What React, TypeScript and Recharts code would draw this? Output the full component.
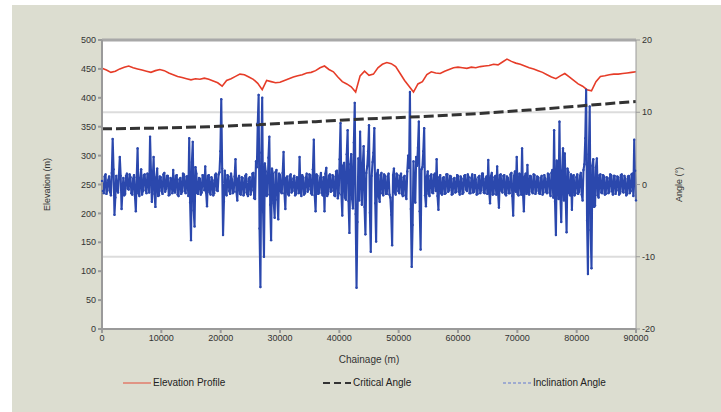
import { CartesianGrid, ComposedChart, Line, ReferenceLine, XAxis, YAxis } from "recharts";

const chainageTicks = [0, 10000, 20000, 30000, 40000, 50000, 60000, 70000, 80000, 90000];
const elevationTicks = [0, 50, 100, 150, 200, 250, 300, 350, 400, 450, 500];
const angleTicks = [-20, -10, 0, 10, 20];

// elevation profile (m), every 750 m
const ELEV_STEP = 750;
const elevation = [
  451, 448, 444, 446, 450, 453, 455, 452, 450, 448,
  446, 444, 447, 449, 447, 443, 440, 437, 435, 433,
  431, 433, 432, 434, 432, 429, 426, 420, 430, 433,
  437, 441, 440, 436, 432, 425, 414, 430, 428, 426,
  427, 430, 433, 436, 438, 440, 443, 444, 447, 452,
  455, 449, 445, 436, 428, 424, 419, 410, 438, 446,
  439, 441, 452, 458, 461, 459, 454, 442, 430, 420,
  410, 424, 428, 440, 445, 443, 442, 446, 449, 452,
  453, 452, 451, 453, 452, 454, 455, 456, 458, 457,
  462, 467, 463, 460, 458, 455, 452, 450, 447, 444,
  440, 436, 433, 438, 442, 436, 430, 424, 420, 414,
  412, 428, 437, 438, 440, 441, 441, 442, 443, 444,
  445,
];

// critical angle (deg), every 9000 m
const CRIT_STEP = 9000;
const criticalAngle = [7.7, 7.8, 8.0, 8.3, 8.7, 9.1, 9.4, 9.8, 10.3, 10.9, 11.5];

// inclination angle (deg), every 150 m
const INCL_STEP = 150;
const inclination = [
  0.5, -0.9, -1.2, 1.1, 1.4, -1.3, -0.8, 0.6, 1.1, -1.0, -1.5, 1.6, 6.3, 2.1, -4.2, -1.8, 1.2, -0.7, -1.1, 1.3,
  3.8, 1.2, -3.4, -0.9, 0.9, -1.5, -1.3, 1.2, 1.5, -0.6, -0.7, 1.4, 1.0, -1.2, -1.4, 0.8, 1.3, -1.6, -3.7, 1.0,
  5.0, -1.2, -1.6, 0.9, 2.1, -1.4, -0.9, 1.3, 1.4, -0.8, -1.2, 1.5, 0.8, -1.1, 6.6, 2.0, -2.4, 0.7, 3.8, -1.3,
  -3.1, 1.0, 2.2, -1.6, -1.5, 1.1, 1.0, -0.9, -1.3, 1.4, 1.6, -1.0, -0.6, 1.2, 1.2, -1.5, -1.4, 0.9, 0.7, -1.2,
  2.0, -0.8, -1.1, 1.2, 1.3, -1.4, -1.6, 0.7, 0.9, -1.3, -1.0, 1.5, 1.4, -0.9, -1.2, 1.1, 1.1, -1.6, 6.4, -2.5,
  -7.7, 3.1, 5.9, -3.6, -5.8, 2.4, 1.5, -1.2, -1.3, 0.9, 0.8, -1.4, -1.1, 1.3, 1.2, -0.8, 2.5, -1.1, -3.0, 1.2,
  1.3, -1.1, -1.4, 1.0, 0.6, -1.5, -1.2, 1.3, 1.5, -0.8, -0.9, 1.4, 1.7, 4.6, 11.8, 2.2, -7.0, -2.4, 1.9, -1.2,
  -1.5, 1.3, 1.1, -0.9, -1.3, 1.5, 0.7, -1.2, -1.0, 1.1, 3.5, -1.0, -2.2, 0.8, 1.2, -1.3, -1.4, 1.0, 0.9, -1.5,
  -1.1, 1.2, 1.4, -1.3, -1.6, 0.8, 1.0, -1.4, -0.8, 1.5, 1.6, -1.9, -2.0, 3.2, 2.4, 8.5, 12.4, -6.1, -14.2, 4.4,
  12.0, -3.8, -10.0, 2.9, 1.8, -1.6, -1.4, 3.7, 6.6, -2.8, -7.7, 2.2, 1.5, -2.6, -4.6, 1.7, 2.0, -2.1, -4.8, 1.5,
  1.3, -1.0, -1.2, 1.6, 4.5, -1.2, -3.4, 0.9, 1.1, -1.3, -1.5, 1.2, 1.4, -1.1, -0.9, 0.8, 1.2, -1.5, -1.3, 1.0,
  0.8, -1.2, 3.8, -0.8, -1.6, 1.3, 1.0, -1.4, -1.2, 0.9, 1.5, -1.0, -0.7, 1.4, 1.3, -1.2, -1.4, 2.1, 6.2, -1.5,
  -3.7, 1.4, 1.2, -1.3, -1.1, 0.9, 1.6, -1.2, -1.5, 1.0, -3.7, 1.5, 2.3, -1.6, -1.3, 1.2, 1.4, -1.0, -0.9, 1.3,
  1.1, -1.5, -1.6, 1.8, 1.9, -1.9, -1.2, 3.5, 8.5, -1.4, -4.3, 2.6, 3.0, -1.8, -2.1, 4.2, 7.5, -2.3, -6.7, 2.8,
  4.2, -2.0, -3.3, 5.8, 11.3, -4.1, -14.3, -5.2, 3.6, -2.2, 7.3, 1.8, -2.8, 2.7, 5.3, -3.1, -6.9, 1.6, 2.5, 4.6,
  8.2, -3.9, -9.3, 1.2, 3.1, 4.4, 7.8, -2.6, -7.9, 1.5, 2.0, -1.7, -2.4, 1.3, 1.6, -1.2, -1.5, 1.4, 1.2, -1.3,
  -1.3, 1.1, 1.5, -1.4, -1.8, -4.2, -8.4, 1.3, 2.2, -1.1, -1.4, 1.5, 1.3, -0.9, -1.2, 1.2, 1.5, -1.3, -1.6, 1.0,
  1.2, -1.5, -2.0, 1.8, 4.0, 2.3, 12.8, -3.4, -11.4, -5.6, 3.2, -1.9, -2.5, 3.8, 2.6, 5.1, 8.7, -3.7, -9.0, 2.1,
  2.4, 4.6, 7.8, -1.5, -3.0, 1.1, 1.8, -1.3, -1.6, 1.2, 1.4, -1.1, -1.2, 1.3, 1.5, -0.9, 3.5, -1.6, -3.5, 1.0,
  1.3, -1.2, -1.4, 0.9, 1.0, -1.3, -1.2, 1.4, 1.4, -1.0, -0.8, 1.2, 1.1, -1.4, -1.3, 0.8, 0.9, -1.1, -1.0, 1.3,
  1.2, -1.0, -1.4, 1.1, 0.8, -1.3, -1.1, 1.2, 1.3, -0.7, -0.9, 1.4, 1.0, -1.2, -1.2, 0.9, 1.4, -1.1, -1.0, 1.3,
  0.7, -1.4, -1.3, 1.0, 1.2, -1.2, -0.8, 1.5, 1.5, -1.1, -1.2, 0.8, 1.1, -1.3, 3.4, -0.9, -2.6, 1.2, 1.6, -1.4,
  -1.3, 1.0, 1.2, -1.4, 2.5, -1.1, -3.2, 1.3, 1.4, -0.9, -1.1, 1.2, 1.3, -1.3, -1.5, 1.1, 0.9, -1.2, -1.2, 1.4,
  1.6, -1.6, -4.3, 1.2, 1.8, -1.0, 3.8, -1.3, -1.5, 1.5, 1.2, -1.4, 5.0, -1.2, -3.7, 1.1, 1.5, -1.3, 2.7, -1.0,
  -1.4, 1.2, 1.1, -1.0, -1.2, 1.4, 1.3, -1.3, -0.9, 1.1, 1.0, -1.2, -1.3, 0.9, 1.2, -1.4, -1.1, 1.3, 0.8, -1.0,
  -1.2, 1.5, 1.4, -1.1, -1.6, 1.6, 2.0, -1.8, 7.5, -2.4, -7.0, 3.3, 2.4, -2.0, 8.7, -1.6, -5.2, 1.9, 5.0, -2.2,
  4.3, -1.9, -6.6, 2.2, 1.7, -1.2, -1.5, 1.4, -3.5, 1.1, 1.3, -1.5, -1.2, 1.0, 1.4, -1.3, -1.0, 1.2, 1.6, -1.4,
  -2.2, 2.0, 2.8, 6.4, 13.1, -5.0, -12.4, 4.2, 10.8, -6.3, -11.6, 2.6, 3.5, -3.1, -2.9, 2.4, 3.6, -1.5, -1.8, 1.3,
  1.4, -1.1, -1.2, 1.3, 1.1, -1.4, -1.3, 1.0, 0.9, -1.2, -1.0, 1.4, 1.3, -0.9, -1.4, 1.2, 1.2, -1.3, -0.8, 1.1,
  1.0, -1.4, -1.2, 1.3, 1.4, -1.0, -1.1, 1.2, 0.8, -1.5, -1.3, 1.1, 1.2, -1.2, -0.9, 1.4, 1.5, -1.6, 6.2, 1.9,
  -2.2,
];

const inclData = inclination.map((a, i) => ({ ch: i * INCL_STEP, incl: a }));
const elevData = elevation.map((e, i) => ({ ch: i * ELEV_STEP, elev: e }));
const critData = criticalAngle.map((c, i) => ({ ch: i * CRIT_STEP, crit: c }));

const RED = "#e63c28";
const BLUE = "#2b48ad";
const FONT = "'Liberation Sans', Arial, sans-serif";
const tickStyle = { fill: "#333", fontSize: 9, fontFamily: FONT };

function LegendItem({ label, children, left }: { label: string; children: React.ReactNode; left: number }) {
  return (
    <div style={{ position: "absolute", left, top: 0, display: "flex", alignItems: "center" }}>
      <svg width={28} height={10}>{children}</svg>
      <span style={{ fontSize: 10, color: "#222", fontFamily: FONT, marginLeft: 2 }}>{label}</span>
    </div>
  );
}

export default function App() {
  return (
    <div style={{ position: "fixed", left: 0, top: 0, width: 721, height: 412, background: "#fff" }}>
      <div style={{ position: "absolute", left: 12, top: 5, width: 709, height: 407, background: "#dcddd0" }}>
        <ComposedChart width={709} height={407} data={inclData} margin={{ top: 35, right: 25, bottom: 49, left: 20 }}>
          <CartesianGrid yAxisId="angle" vertical={false} fill="#ffffff" stroke="#dcdcdc" strokeWidth={2} horizontalValues={[-10, 10]} />
          <XAxis dataKey="ch" type="number" domain={[0, 90000]} ticks={chainageTicks} interval={0}
            tick={tickStyle} tickSize={4} stroke="#9a9a9a" strokeWidth={2} height={34}
            label={{ value: "Chainage (m)", position: "insideBottom", offset: 0, style: { ...tickStyle, fontSize: 10 } }} />
          <YAxis yAxisId="elev" domain={[0, 500]} ticks={elevationTicks} interval={0} width={70}
            tick={tickStyle} tickSize={4} stroke="#9a9a9a" strokeWidth={2}
            label={{ value: "Elevation (m)", angle: -90, position: "insideLeft", offset: 15, style: { ...tickStyle, fontSize: 9, textAnchor: "middle" } }} />
          <YAxis yAxisId="angle" orientation="right" domain={[-20, 20]} ticks={angleTicks} interval={0} width={60}
            tick={tickStyle} tickSize={4} stroke="#9a9a9a"
            label={{ value: "Angle (°)", angle: -90, position: "insideRight", offset: 17, style: { ...tickStyle, fontSize: 9, textAnchor: "middle" } }} />
          <ReferenceLine yAxisId="elev" y={500} stroke="#a8a8a8" strokeWidth={3} />
          <Line yAxisId="angle" dataKey="incl" stroke={BLUE} strokeWidth={2.1} strokeLinejoin="round"
            dot={{ r: 1.2, fill: BLUE, stroke: "none" }} isAnimationActive={false} />
          <Line yAxisId="angle" data={critData} dataKey="crit" stroke="#333" strokeWidth={3} strokeDasharray="10 4"
            dot={false} isAnimationActive={false} />
          <Line yAxisId="elev" data={elevData} dataKey="elev" stroke={RED} strokeWidth={1.6}
            dot={false} isAnimationActive={false} />
        </ComposedChart>
        <div style={{ position: "absolute", left: 0, top: 372, width: 709, height: 12 }}>
          <LegendItem label="Elevation Profile" left={111}>
            <line x1={0} x2={28} y1={5} y2={5} stroke={RED} strokeWidth={1.5} opacity={0.6} />
          </LegendItem>
          <LegendItem label="Critical Angle" left={311}>
            <line x1={0} x2={28} y1={5} y2={5} stroke="#333" strokeWidth={2} strokeDasharray="7 4" />
          </LegendItem>
          <LegendItem label="Inclination Angle" left={491}>
            <line x1={0} x2={28} y1={5} y2={5} stroke="#8a9ad0" strokeWidth={1.5} strokeDasharray="3 2" />
          </LegendItem>
        </div>
      </div>
    </div>
  );
}
